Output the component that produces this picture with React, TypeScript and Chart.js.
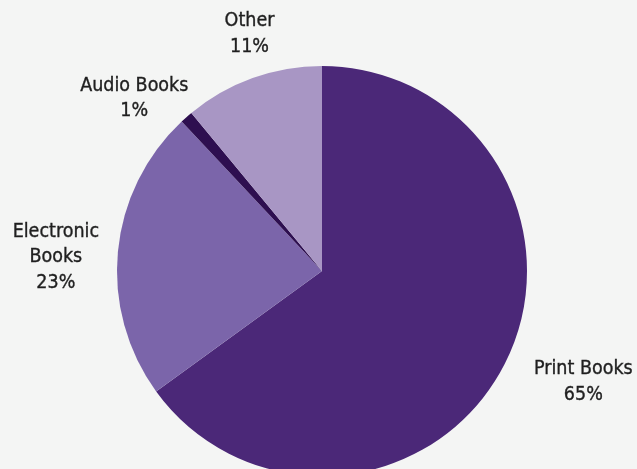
import React, { useEffect, useRef } from "react";
import { Chart, registerables } from "chart.js";

Chart.register(...registerables);

const categories: string[] = ["Print Books", "Electronic Books", "Audio Books", "Other"];
const shares: number[] = [65, 23, 1, 11];
const labelLines: string[][] = [
  ["Print Books", "65%"],
  ["Electronic", "Books", "23%"],
  ["Audio Books", "1%"],
  ["Other", "11%"],
];
const colors: string[] = ["#4b2878", "#7b65aa", "#2e0f50", "#a896c4"];
// label placement: [radial distance as factor of radius, angle tweak in degrees]
const labelPlacement: number[][] = [
  [1.385, -4.0],
  [1.3, -2.4],
  [1.244, -6],
  [1.21, 2.8],
];

const FONT = '"DejaVu Sans Condensed", "DejaVu Sans", sans-serif';

const labelPlugin = {
  id: "outerLabels",
  afterDatasetsDraw(chart: any) {
    const ctx = chart.ctx;
    const meta = chart.getDatasetMeta(0);
    ctx.save();
    ctx.fillStyle = "#1f1f1f";
    ctx.strokeStyle = "#1f1f1f";
    ctx.lineWidth = 0.35;
    ctx.font = `19.5px ${FONT}`;
    ctx.textAlign = "center";
    ctx.textBaseline = "middle";
    meta.data.forEach((arc: any, i: number) => {
      const p = arc.getProps(["x", "y", "startAngle", "endAngle", "outerRadius"], true);
      const mid = (p.startAngle + p.endAngle) / 2 + (labelPlacement[i][1] * Math.PI) / 180;
      const d = p.outerRadius * labelPlacement[i][0];
      const cx = p.x + Math.cos(mid) * d;
      const cy = p.y + Math.sin(mid) * d;
      const lines = labelLines[i];
      const lh = 25.5;
      const top = cy - ((lines.length - 1) * lh) / 2;
      lines.forEach((t, j) => {
        ctx.fillText(t, cx, top + j * lh);
        ctx.strokeText(t, cx, top + j * lh);
      });
    });
    ctx.restore();
  },
};

export default function App() {
  const ref = useRef<HTMLCanvasElement | null>(null);
  useEffect(() => {
    document.body.style.margin = "0";
    document.body.style.overflow = "hidden";
    document.body.style.background = "#f4f5f4";
    const chart = new Chart(ref.current as HTMLCanvasElement, {
      type: "pie",
      data: {
        labels: categories,
        datasets: [
          {
            data: shares,
            backgroundColor: colors,
            borderWidth: 0,
          },
        ],
      },
      options: {
        animation: false,
        responsive: false,
        events: [],
        layout: { padding: { top: 66, bottom: 4, left: 7, right: 0 } },
        plugins: {
          legend: { display: false },
          tooltip: { enabled: false },
        },
      },
      plugins: [labelPlugin],
    });
    return () => chart.destroy();
  }, []);
  return (
    <div style={{ width: 637, height: 469, overflow: "hidden", background: "#f4f5f4" }}>
      <canvas ref={ref} width={637} height={480} style={{ display: "block", width: 637, height: 480 }} />
    </div>
  );
}
